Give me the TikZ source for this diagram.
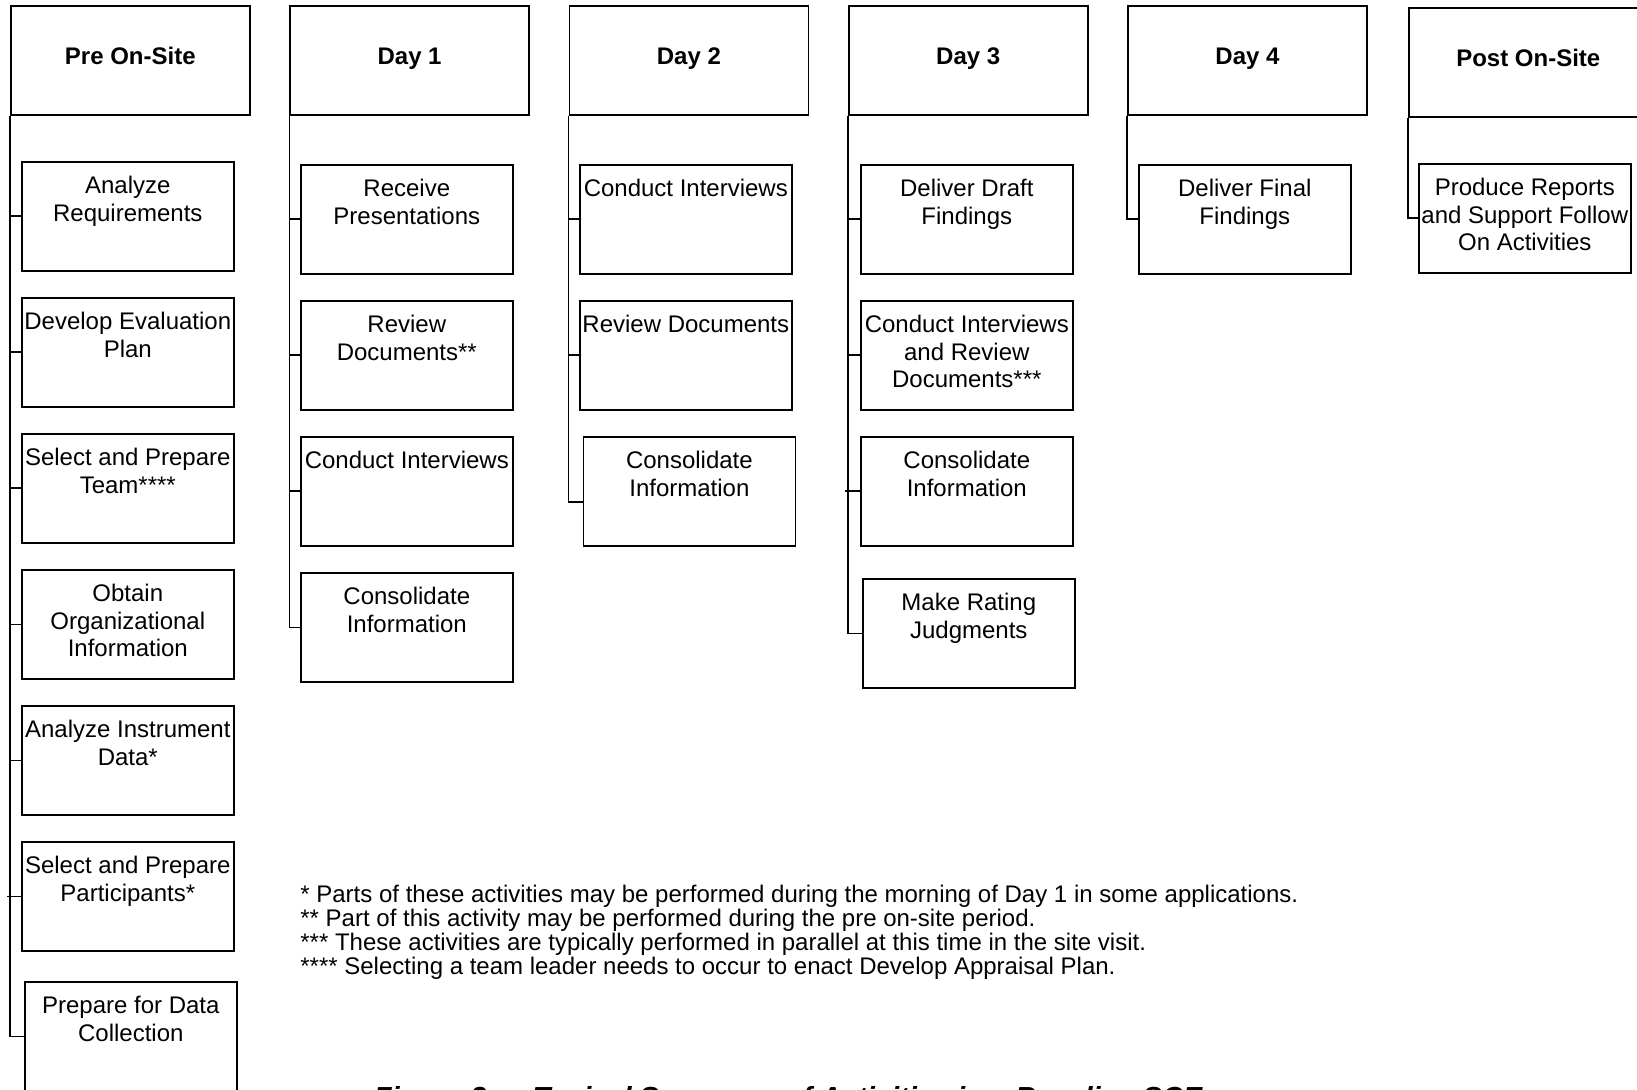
\documentclass[tikz,border=0pt]{standalone}
\usepackage{fontspec}
\setmainfont{Liberation Sans}
\begin{document}
\begin{tikzpicture}[x=0.5pt,y=-0.5pt,
  frame/.style={draw=black, line width=0.8pt, inner sep=0pt, anchor=north west,
    minimum width=106pt, minimum height=54.5pt},
  hdr/.style={frame, minimum width=119.5pt},
  hdrtxt/.style={anchor=base, inner sep=0pt, font=\fontsize{12pt}{14pt}\selectfont\bfseries},
  acttxt/.style={anchor=north, inner sep=0pt, align=center,
    font=\fontsize{12pt}{13.8pt}\selectfont},
  link/.style={draw=black, line width=0.8pt},
  note/.style={anchor=base west, inner sep=0pt, font=\fontsize{12pt}{12pt}\selectfont}]
\useasboundingbox (0,0) rectangle (1637,1090);

% ---- phase headers ----
\node[hdr] (h0) at (10,5) {};
\node[hdr] (h1) at (289.3,5) {};
\node[hdr] (h2) at (568.6,5) {};
\node[hdr] (h3) at (847.9,5) {};
\node[hdr] (h4) at (1127.2,5) {};
\node[hdr] (h5) at (1408,7) {};
\node[hdrtxt] at ([yshift=-29.8pt]h0.north) {Pre On-Site};
\node[hdrtxt] at ([yshift=-29.8pt]h1.north) {Day 1};
\node[hdrtxt] at ([yshift=-29.8pt]h2.north) {Day 2};
\node[hdrtxt] at ([yshift=-29.8pt]h3.north) {Day 3};
\node[hdrtxt] at ([yshift=-29.8pt]h4.north) {Day 4};
\node[hdrtxt] at ([yshift=-29.8pt]h5.north) {Post On-Site};

% ---- activity boxes ----
% Pre On-Site
\node[frame] (a00) at (21,161) {};
\node[frame] (a01) at (21,297) {};
\node[frame] (a02) at (21,433) {};
\node[frame] (a03) at (21,569) {};
\node[frame] (a04) at (21,705) {};
\node[frame] (a05) at (21,841) {};
\node[frame] (a06) at (24,981) {};
\node[acttxt] at ([yshift=-7.5pt]a00.north) {Analyze\\Requirements};
\node[acttxt] at ([yshift=-7.5pt]a01.north) {Develop Evaluation\\Plan};
\node[acttxt] at ([yshift=-7.5pt]a02.north) {Select and Prepare\\Team****};
\node[acttxt] at ([yshift=-7.5pt]a03.north) {Obtain\\Organizational\\Information};
\node[acttxt] at ([yshift=-7.5pt]a04.north) {Analyze Instrument\\Data*};
\node[acttxt] at ([yshift=-7.5pt]a05.north) {Select and Prepare\\Participants*};
\node[acttxt] at ([yshift=-7.5pt]a06.north) {Prepare for Data\\Collection};

% Day 1
\node[frame] (a10) at (300,164) {};
\node[frame] (a11) at (300,300) {};
\node[frame] (a12) at (300,436) {};
\node[frame] (a13) at (300,572) {};
\node[acttxt] at ([yshift=-7.5pt]a10.north) {Receive\\Presentations};
\node[acttxt] at ([yshift=-7.5pt]a11.north) {Review\\Documents**};
\node[acttxt] at ([yshift=-7.5pt]a12.north) {Conduct Interviews};
\node[acttxt] at ([yshift=-7.5pt]a13.north) {Consolidate\\Information};

% Day 2
\node[frame] (a20) at (579,164) {};
\node[frame] (a21) at (579,300) {};
\node[frame] (a22) at (582.6,436) {};
\node[acttxt] at ([yshift=-7.5pt]a20.north) {Conduct Interviews};
\node[acttxt] at ([yshift=-7.5pt]a21.north) {Review Documents};
\node[acttxt] at ([yshift=-7.5pt]a22.north) {Consolidate\\Information};

% Day 3
\node[frame] (a30) at (860,164) {};
\node[frame] (a31) at (860,300) {};
\node[frame] (a32) at (860,436) {};
\node[frame] (a33) at (862,578) {};
\node[acttxt] at ([yshift=-7.5pt]a30.north) {Deliver Draft\\Findings};
\node[acttxt] at ([yshift=-7.5pt]a31.north) {Conduct Interviews\\and Review\\Documents***};
\node[acttxt] at ([yshift=-7.5pt]a32.north) {Consolidate\\Information};
\node[acttxt] at ([yshift=-7.5pt]a33.north) {Make Rating\\Judgments};

% Day 4
\node[frame] (a40) at (1138,164) {};
\node[acttxt] at ([yshift=-7.5pt]a40.north) {Deliver Final\\Findings};

% Post On-Site
\node[frame] (a50) at (1418,163) {};
\node[acttxt] at ([yshift=-7.5pt]a50.north) {Produce Reports\\and Support Follow\\On Activities};

% ---- connectors: trunk from each header, ticks into each box ----
\draw[link] (h0.south west) |- (a06.west);
\draw[link] (h0.south west |- a00.west) -- (a00.west);
\draw[link] (h0.south west |- a01.west) -- (a01.west);
\draw[link] (h0.south west |- a02.west) -- (a02.west);
\draw[link] (h0.south west |- a03.west) -- (a03.west);
\draw[link] (h0.south west |- a04.west) -- (a04.west);
\draw[link] (a05.west) -- ++(-14,0);

\draw[link] (h1.south west) |- (a13.west);
\draw[link] (h1.south west |- a10.west) -- (a10.west);
\draw[link] (h1.south west |- a11.west) -- (a11.west);
\draw[link] (h1.south west |- a12.west) -- (a12.west);

\draw[link] (h2.south west) |- ([yshift=-5.25pt]a22.west);
\draw[link] (h2.south west |- a20.west) -- (a20.west);
\draw[link] (h2.south west |- a21.west) -- (a21.west);

\draw[link] (h3.south west) |- (a33.west);
\draw[link] (h3.south west |- a30.west) -- (a30.west);
\draw[link] (h3.south west |- a31.west) -- (a31.west);
\draw[link] (a32.west) -- ++(-15,0);

\draw[link] (h4.south west) |- (a40.west);
\draw[link] (h5.south west) |- (a50.west);

% ---- footnotes ----
\node[note] (n1) at (300,902) {* Parts of these activities may be performed during the morning of Day 1 in some applications.};
\node[note] (n2) at (300,926) {** Part of this activity may be performed during the pre on-site period.};
\node[note] (n3) at (300,950) {*** These activities are typically performed in parallel at this time in the site visit.};
\node[note] (n4) at (300,974) {**** Selecting a team leader needs to occur to enact Develop Appraisal Plan.};

% ---- figure caption (runs off the lower edge) ----
\node[anchor=base, inner sep=0pt, font=\fontsize{14.5pt}{16pt}\selectfont\bfseries\itshape]
  (cap) at (788,1107) {Figure 3-x: Typical Sequence of Activities in a Baseline SCE};
\end{tikzpicture}
\end{document}
